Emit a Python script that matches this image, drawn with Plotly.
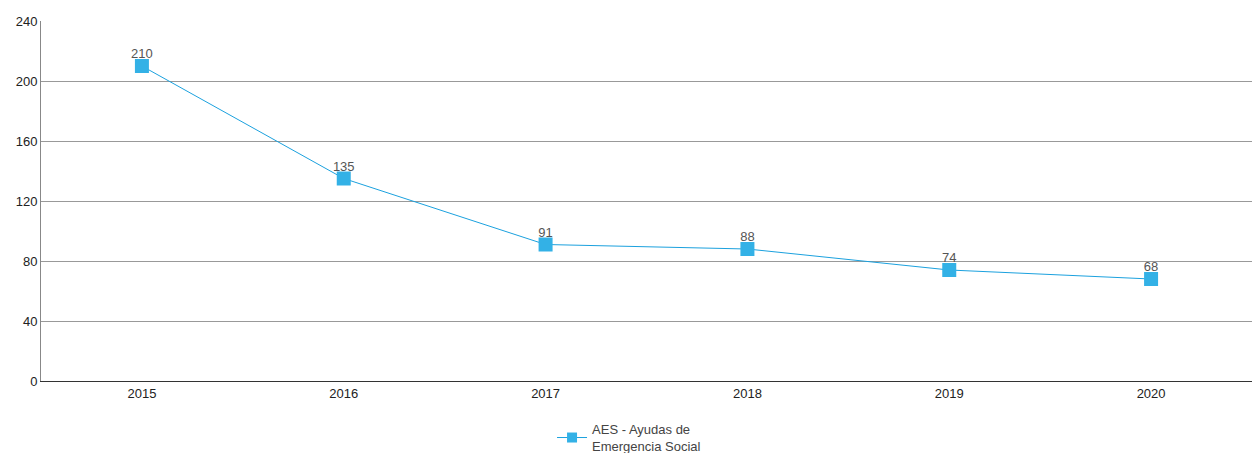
import plotly.graph_objects as go

years = ["2015", "2016", "2017", "2018", "2019", "2020"]
values = [210, 135, 91, 88, 74, 68]
series_name = "AES - Ayudas de<br>Emergencia Social"
y_ticks = [0, 40, 80, 120, 160, 200, 240]

FONT = "Liberation Sans, Arial, sans-serif"
LINE_COLOR = "#1ba1de"
MARKER_COLOR = "#33b1e6"

fig = go.Figure()
fig.add_trace(go.Scatter(
    x=years, y=values, name=series_name, showlegend=False,
    mode="lines+markers",
    line=dict(color=LINE_COLOR, width=1),
    marker=dict(symbol="square", size=14, color=MARKER_COLOR),
))
fig.add_trace(go.Scatter(
    x=years, y=values, mode="markers+text", showlegend=False, hoverinfo="skip",
    marker=dict(size=6, opacity=0),
    text=[str(v) for v in values], textposition="top center",
    textfont=dict(family=FONT, size=13, color="#555555"),
    cliponaxis=False,
))
# legend entry with a smaller key symbol, as in the reference
fig.add_trace(go.Scatter(
    x=[None], y=[None], name=series_name, mode="lines+markers",
    line=dict(color=LINE_COLOR, width=1),
    marker=dict(symbol="square", size=10, color=MARKER_COLOR),
))

fig.update_layout(
    width=1252, height=453,
    margin=dict(l=41, r=0, t=21, b=72, autoexpand=False),
    paper_bgcolor="white", plot_bgcolor="white",
    font=dict(family=FONT, size=13, color="#222222"),
    showlegend=True,
    legend=dict(orientation="h", x=0.422, xanchor="left", y=-0.092, yanchor="top",
                font=dict(size=13, color="#444444")),
    xaxis=dict(type="category", range=[-0.5, 5.5], showgrid=False,
               showline=True, linecolor="#333333", linewidth=1, ticks="",
               tickfont=dict(size=13, color="#222222")),
    yaxis=dict(range=[0, 240], tickvals=y_ticks, showgrid=True, gridcolor="#999999",
               gridwidth=1, showline=True, linecolor="#888888", linewidth=1,
               zeroline=False, ticks="", tickfont=dict(size=13, color="#222222")),
)

fig.write_html("out.html", config={"displayModeBar": False})
with open("out.html", encoding="utf-8") as f:
    html = f.read()
html = html.replace("<head>", "<head><style>html,body{margin:0;padding:0;overflow:hidden;}</style>", 1)
with open("out.html", "w", encoding="utf-8") as f:
    f.write(html)
